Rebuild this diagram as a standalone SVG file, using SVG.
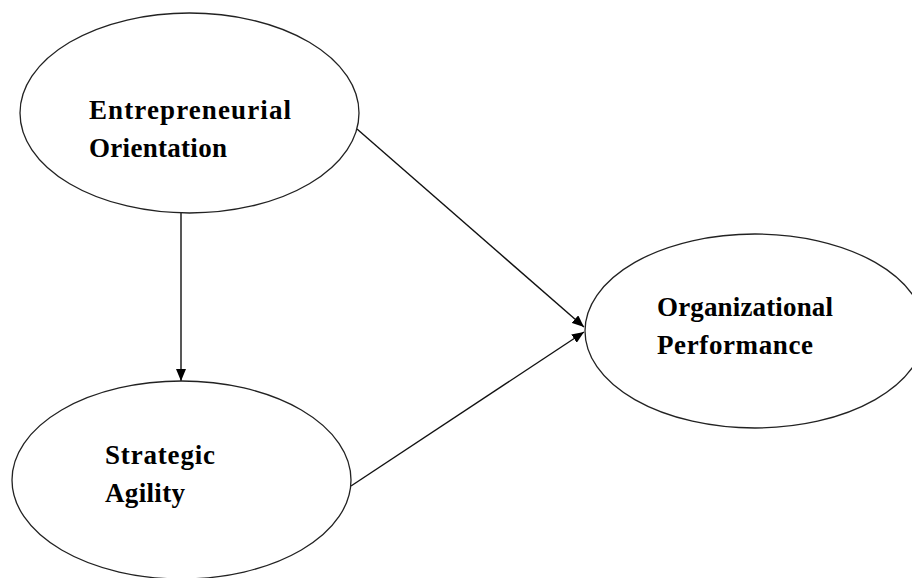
<svg xmlns="http://www.w3.org/2000/svg" width="912" height="578" viewBox="0 0 912 578">
<style>
.node ellipse{fill:#fff;stroke:#222;stroke-width:1.3}
.node text{font-family:"Liberation Serif","Times New Roman",serif;font-weight:bold;font-size:27px;fill:#000}
.conn line{stroke:#111;stroke-width:1.4}
</style>
<defs>
<marker id="ah" viewBox="0 0 12 10" refX="12" refY="5" markerWidth="12" markerHeight="10" markerUnits="userSpaceOnUse" orient="auto">
<path d="M0,0 L12,5 L0,10 Z" fill="#000"/>
</marker>
</defs>
<rect width="912" height="578" fill="#fff"/>
<g id="connectors" class="conn">
<line x1="181" y1="213" x2="181" y2="381" marker-end="url(#ah)"/>
<line x1="357" y1="129" x2="584" y2="327" marker-end="url(#ah)"/>
<line x1="351" y1="486" x2="584" y2="332" marker-end="url(#ah)"/>
</g>
<g id="entrepreneurial-orientation" class="node">
<ellipse cx="189.5" cy="113" rx="169.5" ry="100"/>
<text x="89" y="119" textLength="202" lengthAdjust="spacing">Entrepreneurial</text>
<text x="89" y="157" textLength="138" lengthAdjust="spacing">Orientation</text>
</g>
<g id="strategic-agility" class="node">
<ellipse cx="181.5" cy="480" rx="169.5" ry="99"/>
<text x="105" y="464" textLength="110" lengthAdjust="spacing">Strategic</text>
<text x="105" y="502" textLength="80" lengthAdjust="spacing">Agility</text>
</g>
<g id="organizational-performance" class="node">
<ellipse cx="755" cy="331" rx="170" ry="97"/>
<text x="657" y="316" textLength="176" lengthAdjust="spacing">Organizational</text>
<text x="657" y="354" textLength="156" lengthAdjust="spacing">Performance</text>
</g>
</svg>
